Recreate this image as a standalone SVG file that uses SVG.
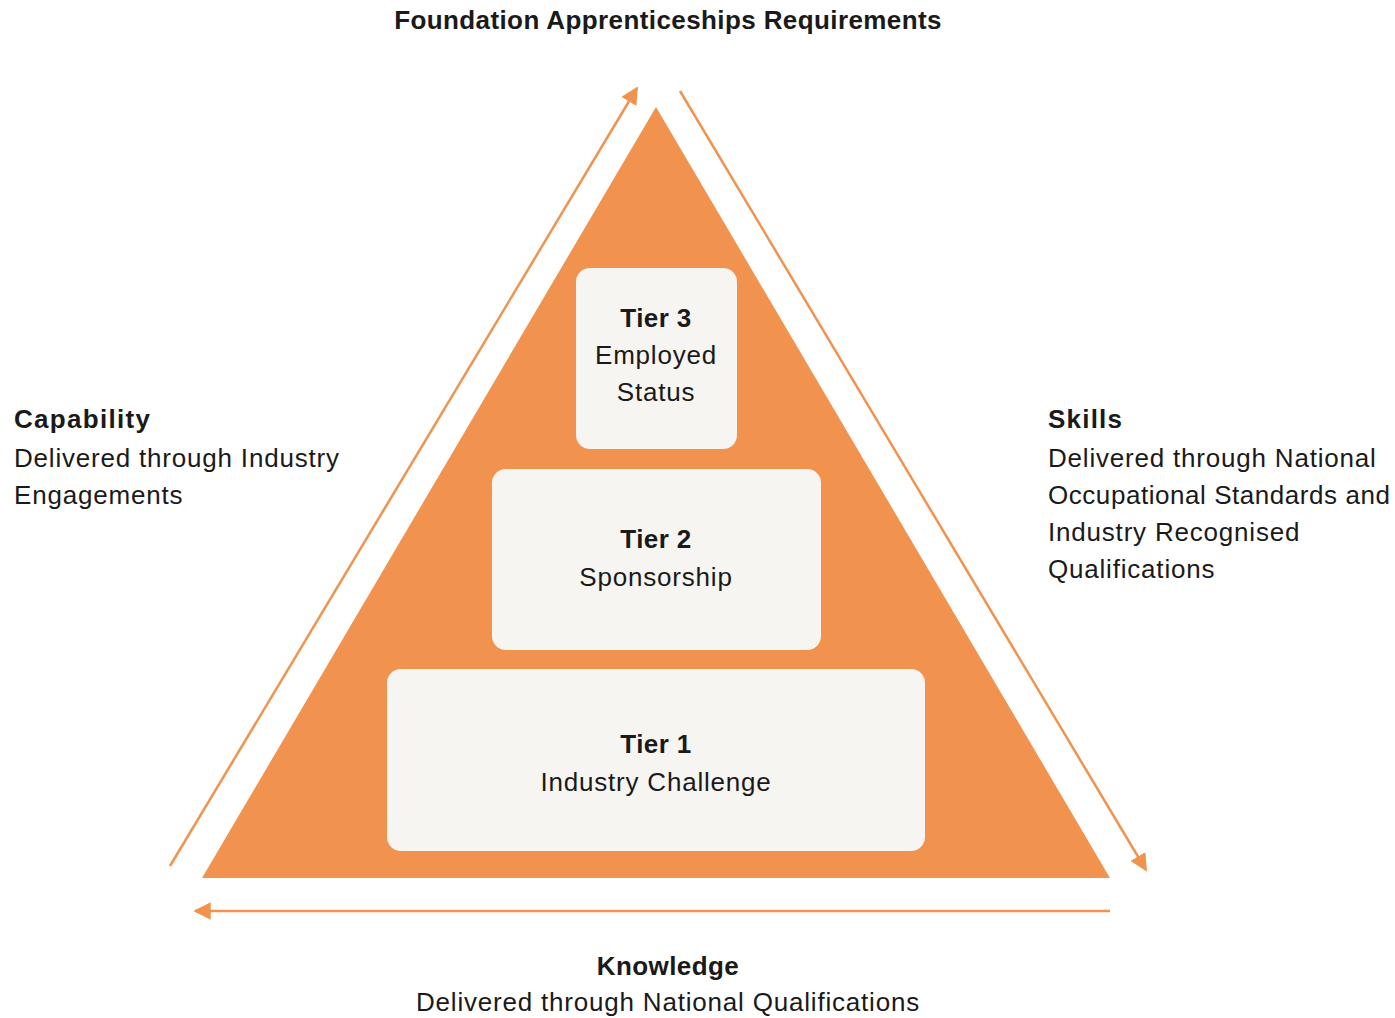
<svg xmlns="http://www.w3.org/2000/svg" width="1395" height="1018" viewBox="0 0 1395 1018">
<defs>
<style>
text{font-family:"Liberation Sans",Arial,sans-serif;font-size:26px;fill:#1a1a1a;letter-spacing:0.8px}
.b{font-weight:bold;letter-spacing:0.4px}
.c{text-anchor:middle}
.box{fill:#F7F5F1}
.ln{stroke:#F2924F;stroke-width:2.5;fill:none}
</style>
<marker id="ah" viewBox="0 0 10 10" refX="9" refY="5" markerWidth="7" markerHeight="7" markerUnits="strokeWidth" orient="auto">
<path d="M0,0 L10,5 L0,10 Z" fill="#F2924F"/>
</marker>
</defs>
<rect width="1395" height="1018" fill="#ffffff"/>
<text class="b c" x="668" y="29">Foundation Apprenticeships Requirements</text>
<g id="pyramid">
<polygon points="656,107 202,878 1110,878" fill="#F2924F"/>
</g>
<g id="connectors">
<line class="ln" x1="170" y1="866" x2="637" y2="88" marker-end="url(#ah)"/>
<line class="ln" x1="680" y1="91" x2="1146" y2="870" marker-end="url(#ah)"/>
<line class="ln" x1="1110" y1="911" x2="195" y2="911" marker-end="url(#ah)"/>
</g>
<g id="tier3">
<rect class="box" x="576" y="268" width="161" height="181" rx="14"/>
<text class="b c" x="656" y="327">Tier 3</text>
<text class="c" x="656" y="364">Employed</text>
<text class="c" x="656" y="401">Status</text>
</g>
<g id="tier2">
<rect class="box" x="492" y="469" width="329" height="181" rx="14"/>
<text class="b c" x="656" y="548">Tier 2</text>
<text class="c" x="656" y="586">Sponsorship</text>
</g>
<g id="tier1">
<rect class="box" x="387" y="669" width="538" height="182" rx="14"/>
<text class="b c" x="656" y="753">Tier 1</text>
<text class="c" x="656" y="791">Industry Challenge</text>
</g>
<g id="capability">
<text class="b" x="14" y="428" style="letter-spacing:1.3px">Capability</text>
<text x="14" y="467">Delivered through Industry</text>
<text x="14" y="504">Engagements</text>
</g>
<g id="skills">
<text class="b" x="1048" y="428" style="letter-spacing:1.2px">Skills</text>
<text x="1048" y="467">Delivered through National</text>
<text x="1048" y="504" style="letter-spacing:0.55px">Occupational Standards and</text>
<text x="1048" y="541">Industry Recognised</text>
<text x="1048" y="578">Qualifications</text>
</g>
<g id="knowledge">
<text class="b c" x="668" y="975">Knowledge</text>
<text class="c" x="668" y="1011">Delivered through National Qualifications</text>
</g>
</svg>
